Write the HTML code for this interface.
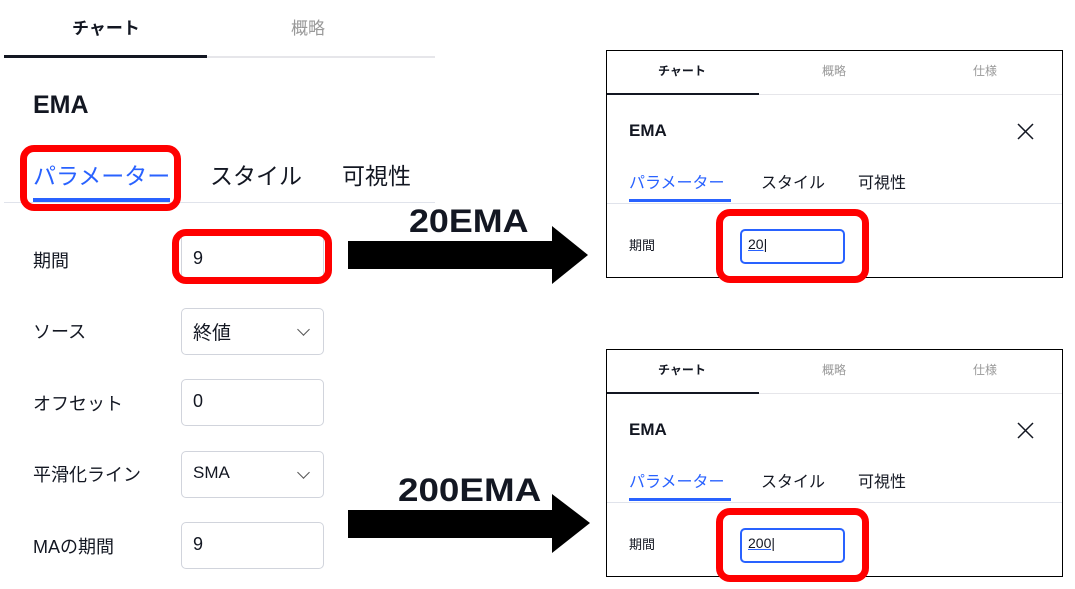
<!DOCTYPE html>
<html><head><meta charset="utf-8"><style>
body{margin:0;width:1075px;height:589px;background:#fff;position:relative;overflow:hidden;font-family:"Liberation Sans","Noto Sans CJK JP",sans-serif;color:#131722}
.a{position:absolute;white-space:nowrap}
.red{position:absolute;border:7px solid #f00;border-radius:14px;box-sizing:border-box}
.inp{position:absolute;border:1px solid #d1d4dc;border-radius:5px;box-sizing:border-box;background:#fff}
.chev{position:absolute;width:8px;height:8px;border-right:1.5px solid #555;border-bottom:1.5px solid #555;transform:rotate(45deg)}
.panel{position:absolute;left:606px;width:457px;height:228px;border:1px solid #000;box-sizing:border-box;overflow:visible}
.big{font-size:32px;font-weight:bold;transform-origin:0 0}
</style></head><body>

<!-- left -->
<div class="a" style="left:72px;top:14px;font-size:17px;font-weight:bold">チャート</div>
<div class="a" style="left:291px;top:14px;font-size:17px;color:#999">概略</div>
<div class="a" style="left:4px;top:56px;width:431px;height:2px;background:#e6e6ea"></div>
<div class="a" style="left:4px;top:55px;width:203px;height:3px;background:#131722"></div>
<div class="a" style="left:33px;top:91px;font-size:25px;font-weight:bold">EMA</div>
<div class="a" style="left:33px;top:157px;font-size:23px;color:#2962ff">パラメーター</div>
<div class="a" style="left:210px;top:157px;font-size:23px">スタイル</div>
<div class="a" style="left:342px;top:157px;font-size:23px">可視性</div>
<div class="a" style="left:4px;top:202px;width:431px;height:1px;background:#e0e3eb"></div>
<div class="a" style="left:33px;top:198px;width:137px;height:4px;background:#2962ff"></div>
<div class="red" style="left:20px;top:145px;width:161px;height:66px"></div>

<div class="a" style="left:33px;top:247px;font-size:18px">期間</div>
<div class="inp" style="left:181px;top:233px;width:143px;height:46px"></div>
<div class="a" style="left:193px;top:248px;font-size:18px">9</div>
<div class="red" style="left:172px;top:229px;width:160px;height:55px"></div>

<div class="a" style="left:33px;top:318px;font-size:18px">ソース</div>
<div class="inp" style="left:181px;top:308px;width:143px;height:47px"></div>
<div class="a" style="left:193px;top:318px;font-size:19px">終値</div>
<div class="chev" style="left:299px;top:325px"></div>

<div class="a" style="left:33px;top:390px;font-size:18px">オフセット</div>
<div class="inp" style="left:181px;top:379px;width:143px;height:47px"></div>
<div class="a" style="left:193px;top:391px;font-size:18px">0</div>

<div class="a" style="left:33px;top:461px;font-size:18px">平滑化ライン</div>
<div class="inp" style="left:181px;top:451px;width:143px;height:47px"></div>
<div class="a" style="left:193px;top:463px;font-size:17px">SMA</div>
<div class="chev" style="left:299px;top:468px"></div>

<div class="a" style="left:33px;top:533px;font-size:18px">MAの期間</div>
<div class="inp" style="left:181px;top:522px;width:143px;height:47px"></div>
<div class="a" style="left:193px;top:534px;font-size:18px">9</div>

<!-- arrows -->
<div class="a big" style="left:409px;top:203px;transform:scaleX(1.12)">20EMA</div>
<svg class="a" style="left:346px;top:224px" width="250" height="64"><polygon points="2,17 206,17 206,2 242,31 206,60 206,45 2,45" fill="#000"/></svg>
<div class="a big" style="left:398px;top:472px;transform:scaleX(1.15)">200EMA</div>
<svg class="a" style="left:346px;top:492px" width="250" height="64"><polygon points="2,18 206,18 206,2 244,31 206,61 206,46 2,46" fill="#000"/></svg>

<!-- panel 1 -->
<div class="panel" style="top:50px">
 <div class="a" style="left:51px;top:11px;font-size:12px;font-weight:bold">チャート</div>
 <div class="a" style="left:215px;top:11px;font-size:12px;color:#999">概略</div>
 <div class="a" style="left:366px;top:11px;font-size:12px;color:#999">仕様</div>
 <div class="a" style="left:0;top:43px;width:455px;height:1px;background:#e6e6ea"></div>
 <div class="a" style="left:0;top:42px;width:152px;height:2px;background:#131722"></div>
 <div class="a" style="left:22px;top:70px;font-size:17px;font-weight:bold">EMA</div>
 <svg class="a" style="left:410px;top:72px" width="17" height="17"><path d="M1 1L16 16M16 1L1 16" stroke="#131722" stroke-width="1.5"/></svg>
 <div class="a" style="left:22px;top:118px;font-size:16px;color:#2962ff">パラメーター</div>
 <div class="a" style="left:154px;top:118px;font-size:16px">スタイル</div>
 <div class="a" style="left:251px;top:118px;font-size:16px">可視性</div>
 <div class="a" style="left:0;top:152px;width:455px;height:1px;background:#e0e3eb"></div>
 <div class="a" style="left:22px;top:148px;width:102px;height:3px;background:#2962ff"></div>
 <div class="a" style="left:22px;top:184px;font-size:13px">期間</div>
 <div class="inp" style="left:133px;top:178px;width:105px;height:35px;border:2px solid #2962ff"></div>
 <div class="a" style="left:141px;top:185px;font-size:14px;text-decoration:underline;text-decoration-color:#2962ff">20|</div>
 <div class="red" style="left:109px;top:158px;width:153px;height:74px"></div>
</div>

<!-- panel 2 -->
<div class="panel" style="top:349px">
 <div class="a" style="left:51px;top:11px;font-size:12px;font-weight:bold">チャート</div>
 <div class="a" style="left:215px;top:11px;font-size:12px;color:#999">概略</div>
 <div class="a" style="left:366px;top:11px;font-size:12px;color:#999">仕様</div>
 <div class="a" style="left:0;top:43px;width:455px;height:1px;background:#e6e6ea"></div>
 <div class="a" style="left:0;top:42px;width:152px;height:2px;background:#131722"></div>
 <div class="a" style="left:22px;top:70px;font-size:17px;font-weight:bold">EMA</div>
 <svg class="a" style="left:410px;top:72px" width="17" height="17"><path d="M1 1L16 16M16 1L1 16" stroke="#131722" stroke-width="1.5"/></svg>
 <div class="a" style="left:22px;top:118px;font-size:16px;color:#2962ff">パラメーター</div>
 <div class="a" style="left:154px;top:118px;font-size:16px">スタイル</div>
 <div class="a" style="left:251px;top:118px;font-size:16px">可視性</div>
 <div class="a" style="left:0;top:152px;width:455px;height:1px;background:#e0e3eb"></div>
 <div class="a" style="left:22px;top:148px;width:102px;height:3px;background:#2962ff"></div>
 <div class="a" style="left:22px;top:184px;font-size:13px">期間</div>
 <div class="inp" style="left:133px;top:178px;width:105px;height:35px;border:2px solid #2962ff"></div>
 <div class="a" style="left:141px;top:185px;font-size:14px;text-decoration:underline;text-decoration-color:#2962ff">200|</div>
 <div class="red" style="left:109px;top:158px;width:153px;height:74px"></div>
</div>
</body></html>
